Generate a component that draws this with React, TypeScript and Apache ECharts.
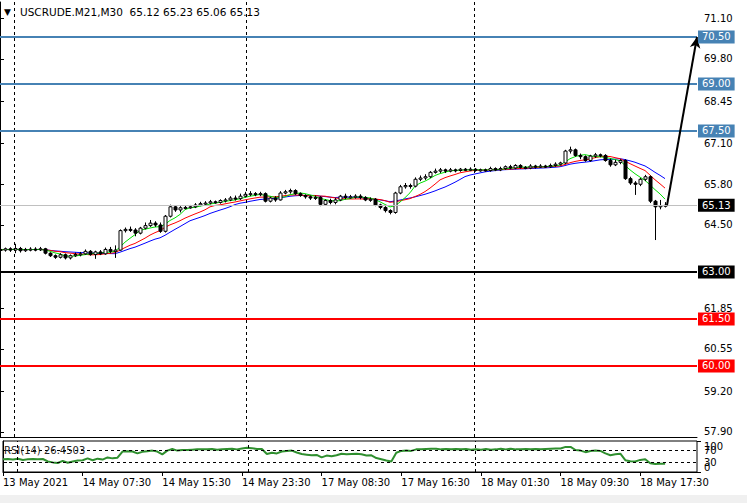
import React, { useEffect, useRef } from "react";
import * as echarts from "echarts";

const SYMBOL = "USCRUDE.M21,M30";

// [open, close, low, high] for each M30 bar, left to right
const OHLC: number[][] = [
  [63.72, 63.70, 63.66, 63.78], [63.70, 63.74, 63.65, 63.78], [63.74, 63.70, 63.64, 63.79], [63.70, 63.75, 63.60, 63.90],
  [63.75, 63.68, 63.62, 63.80], [63.68, 63.72, 63.64, 63.77], [63.72, 63.73, 63.66, 63.79], [63.73, 63.72, 63.66, 63.79],
  [63.72, 63.74, 63.67, 63.80], [63.74, 63.60, 63.56, 63.77], [63.60, 63.52, 63.48, 63.63], [63.52, 63.47, 63.42, 63.56],
  [63.47, 63.55, 63.43, 63.60], [63.55, 63.45, 63.40, 63.59], [63.45, 63.52, 63.40, 63.56], [63.52, 63.56, 63.48, 63.62],
  [63.56, 63.58, 63.50, 63.64], [63.58, 63.66, 63.55, 63.72], [63.66, 63.56, 63.52, 63.70], [63.56, 63.64, 63.42, 63.68],
  [63.64, 63.58, 63.54, 63.70], [63.58, 63.72, 63.55, 63.78], [63.72, 63.66, 63.60, 63.80], [63.66, 63.70, 63.45, 63.85],
  [63.70, 64.32, 63.68, 64.36], [64.32, 64.36, 64.26, 64.42], [64.36, 64.34, 64.28, 64.45], [64.34, 64.24, 64.14, 64.40],
  [64.24, 64.40, 64.20, 64.44], [64.40, 64.48, 64.36, 64.58], [64.48, 64.56, 64.44, 64.66], [64.56, 64.50, 64.44, 64.62],
  [64.50, 64.30, 64.25, 64.58], [64.30, 64.78, 64.26, 64.82], [64.78, 65.08, 64.74, 65.15], [65.08, 64.98, 64.92, 65.12],
  [64.98, 65.05, 64.90, 65.10], [65.05, 65.06, 65.00, 65.12], [65.06, 65.08, 65.02, 65.14], [65.08, 65.14, 65.04, 65.20],
  [65.14, 65.18, 65.10, 65.24], [65.18, 65.20, 65.14, 65.26], [65.20, 65.24, 65.16, 65.30], [65.24, 65.22, 65.18, 65.28],
  [65.22, 65.28, 65.18, 65.32], [65.28, 65.30, 65.22, 65.36], [65.30, 65.36, 65.26, 65.42], [65.36, 65.34, 65.28, 65.44],
  [65.34, 65.42, 65.30, 65.50], [65.42, 65.48, 65.38, 65.56], [65.48, 65.50, 65.42, 65.58], [65.50, 65.48, 65.42, 65.55],
  [65.48, 65.50, 65.42, 65.56], [65.50, 65.26, 65.22, 65.54], [65.26, 65.36, 65.22, 65.40], [65.36, 65.30, 65.24, 65.42],
  [65.30, 65.52, 65.28, 65.58], [65.52, 65.56, 65.48, 65.62], [65.56, 65.60, 65.50, 65.66], [65.60, 65.50, 65.46, 65.64],
  [65.50, 65.44, 65.40, 65.54], [65.44, 65.40, 65.34, 65.48], [65.40, 65.36, 65.30, 65.44], [65.36, 65.38, 65.30, 65.44],
  [65.38, 65.16, 65.10, 65.42], [65.16, 65.28, 65.12, 65.32], [65.28, 65.22, 65.16, 65.34], [65.22, 65.30, 65.16, 65.36],
  [65.30, 65.42, 65.26, 65.46], [65.42, 65.38, 65.32, 65.50], [65.38, 65.40, 65.34, 65.46], [65.40, 65.42, 65.34, 65.48],
  [65.42, 65.38, 65.32, 65.48], [65.38, 65.30, 65.26, 65.42], [65.30, 65.32, 65.24, 65.38], [65.32, 65.14, 65.10, 65.36],
  [65.14, 65.06, 65.00, 65.18], [65.06, 64.96, 64.90, 65.10], [64.96, 64.90, 64.84, 65.00], [64.90, 65.52, 64.86, 65.56],
  [65.52, 65.72, 65.48, 65.78], [65.72, 65.76, 65.66, 65.84], [65.76, 65.74, 65.66, 65.82], [65.74, 65.96, 65.70, 66.02],
  [65.96, 66.00, 65.90, 66.08], [66.00, 66.04, 65.94, 66.12], [66.04, 66.18, 66.00, 66.22], [66.18, 66.22, 66.14, 66.30],
  [66.22, 66.26, 66.16, 66.32], [66.26, 66.22, 66.16, 66.30], [66.22, 66.26, 66.18, 66.32], [66.26, 66.24, 66.18, 66.30],
  [66.24, 66.28, 66.20, 66.32], [66.28, 66.26, 66.22, 66.32], [66.26, 66.28, 66.22, 66.34], [66.28, 66.24, 66.20, 66.32],
  [66.24, 66.26, 66.20, 66.30], [66.26, 66.24, 66.20, 66.30], [66.24, 66.30, 66.20, 66.36], [66.30, 66.26, 66.22, 66.34],
  [66.26, 66.30, 66.22, 66.36], [66.30, 66.36, 66.26, 66.40], [66.36, 66.32, 66.28, 66.42], [66.32, 66.40, 66.28, 66.44],
  [66.40, 66.34, 66.30, 66.44], [66.34, 66.32, 66.28, 66.38], [66.32, 66.38, 66.28, 66.44], [66.38, 66.36, 66.30, 66.42],
  [66.36, 66.38, 66.32, 66.44], [66.38, 66.36, 66.32, 66.42], [66.36, 66.40, 66.32, 66.46], [66.40, 66.44, 66.36, 66.50],
  [66.44, 66.48, 66.40, 66.52], [66.48, 66.86, 66.44, 66.90], [66.86, 66.90, 66.78, 67.00], [66.90, 66.72, 66.68, 66.94],
  [66.72, 66.68, 66.60, 66.78], [66.68, 66.56, 66.52, 66.72], [66.56, 66.70, 66.52, 66.74], [66.70, 66.74, 66.64, 66.80],
  [66.74, 66.72, 66.66, 66.78], [66.72, 66.56, 66.52, 66.76], [66.56, 66.42, 66.36, 66.62], [66.42, 66.50, 66.38, 66.58],
  [66.50, 66.56, 66.44, 66.60], [66.56, 65.98, 65.94, 66.60], [65.98, 65.84, 65.78, 66.04], [65.84, 65.80, 65.46, 65.90],
  [65.80, 65.96, 65.74, 66.00], [65.96, 66.04, 65.90, 66.10], [66.04, 65.26, 65.20, 66.08], [65.26, 65.08, 64.02, 65.30],
  [65.08, 65.12, 65.00, 65.30], [65.12, 65.13, 65.06, 65.23],
];

// RSI(14) per bar
const RSI: number[] = [
  41, 42, 40, 43, 39, 41, 42, 41, 42,
  34, 31, 29, 36, 30, 34, 37,
  38, 44, 38, 43, 40, 47, 44,
  46,
  66, 67, 66, 60, 65, 67, 69, 66,
  57,
  69, 74, 69, 71, 71, 72, 73, 73, 73, 74, 72, 73, 74, 75, 73,
  76, 78, 77, 74, 74,
  58, 62, 60,
  66, 68, 69, 63,
  58, 56, 54, 55,
  47, 53, 51, 54,
  59, 57, 58, 59, 57, 53, 54,
  45, 41, 37, 34,
  62, 68, 69, 68,
  73, 73, 74, 75, 75, 73, 74, 73, 74, 73, 74, 72, 73, 72, 74, 72, 73, 75, 73, 75, 73, 73, 74, 73, 74, 73, 74, 75, 76, 76,
  81, 81,
  71, 69, 64, 68,
  69, 68, 60,
  54, 57, 59,
  38, 35, 34,
  39, 41,
  28, 26, 27, 26.4503,
];

const MA_PERIODS = [15, 10, 5];
const MA_COLORS = ["#0000ff", "#ff0000", "#00e000"];

const PRICE_TICKS = [71.1, 69.8, 68.45, 67.1, 65.8, 64.5, 61.85, 60.55, 59.2, 57.9];
const BLUE_LEVELS = [70.5, 69.0, 67.5];
const BLACK_LEVEL = 63.0;
const RED_LEVELS = [61.5, 60.0];
const TARGET = 70.5;

const TIME_TICK_BARS = [0, 16, 32, 48, 64, 80, 96, 112, 128];
const TIME_TICK_LABELS = [
  "13 May 2021", "14 May 07:30", "14 May 15:30", "14 May 23:30", "17 May 08:30",
  "17 May 16:30", "18 May 01:30", "18 May 09:30", "18 May 17:30",
];
const SEPARATOR_BARS = [2.8, 49.2, 94.8];

const RSI_LEVEL_TICKS = [30, 70];
const RSI_BOUND_TICKS = [0, 100];

const FONT = "DejaVu Sans";

function sma(period: number): number[][] {
  return OHLC.map((_, i) => {
    const s = Math.max(0, i - period + 1);
    let sum = 0;
    for (let k = s; k <= i; k++) sum += OHLC[k][1];
    return [i, sum / (i - s + 1)];
  });
}

export default function App() {
  const ref = useRef<HTMLDivElement>(null);
  useEffect(() => {
    if (!ref.current) return;
    const chart = echarts.init(ref.current, null, { renderer: "svg" });
    const n = OHLC.length;
    const last = OHLC[n - 1];
    const lastPrice = last[1];
    const xMax = 139.4;
    const yMin = 57.734;
    const yMax = 71.617;

    const candleData = OHLC.map((r, i) => [i, r[0], r[1], r[2], r[3]]);
    const lvlLabel = (bg: string) => ({
      show: true,
      position: "end",
      distance: 1,
      color: "#fff",
      backgroundColor: bg,
      fontFamily: FONT,
      fontSize: 10,
      padding: [2, 4, 1, 4],
      formatter: (p: any) => Number(p.value).toFixed(2),
    });
    const sepLines = SEPARATOR_BARS.map((b) => ({
      xAxis: b,
      lineStyle: { color: "#000", width: 1, type: [3, 3] },
      label: { show: false },
    }));
    const rsiAxisBase = {
      type: "value", gridIndex: 1, position: "right", min: 0, max: 100,
      splitLine: { show: false },
    };

    const option: any = {
      animation: false,
      backgroundColor: "#fff",
      title: [
        { text: "▼", left: -1, top: 2, textStyle: { fontSize: 9, color: "#000", fontWeight: "normal", fontFamily: FONT } },
        {
          text: `${SYMBOL}  ${last[0].toFixed(2)} ${last[3].toFixed(2)} ${last[2].toFixed(2)} ${last[1].toFixed(2)}`,
          left: 20, top: 6, padding: 0,
          textStyle: { fontSize: 10.5, color: "#000", fontWeight: "normal", fontFamily: FONT },
        },
        {
          text: `RSI(14) ${RSI[RSI.length - 1].toFixed(4)}`,
          left: 4, top: 445, padding: 0,
          textStyle: { fontSize: 10, color: "#222", fontWeight: "normal", fontFamily: FONT },
        },
      ],
      grid: [
        { left: 0, top: 2, width: 697, height: 435 },
        { left: 0, top: 441, width: 697, height: 31, show: true, borderColor: "#000", borderWidth: 1, backgroundColor: "transparent" },
      ],
      xAxis: [
        {
          type: "value", gridIndex: 0, min: 0, max: xMax,
          axisLine: { show: true, onZero: false, lineStyle: { color: "#000", width: 1 } },
          axisTick: { show: false }, axisLabel: { show: false }, splitLine: { show: false },
        },
        {
          type: "value", gridIndex: 1, min: 0, max: xMax,
          axisLine: { show: true, onZero: false, lineStyle: { color: "#000", width: 1 } },
          axisTick: { show: true, length: 4, customValues: TIME_TICK_BARS, lineStyle: { color: "#000" } },
          axisLabel: {
            show: true, customValues: TIME_TICK_BARS, align: "left", margin: 5,
            color: "#000", fontSize: 10, fontFamily: FONT,
            formatter: (v: number) => TIME_TICK_LABELS[TIME_TICK_BARS.indexOf(v)] ?? "",
          },
          splitLine: { show: false },
        },
      ],
      yAxis: [
        {
          type: "value", gridIndex: 0, position: "right", min: yMin, max: yMax,
          axisLine: { show: true, lineStyle: { color: "#000", width: 1 } },
          axisTick: { show: true, length: 4, customValues: PRICE_TICKS, lineStyle: { color: "#000" } },
          axisLabel: {
            show: true, customValues: PRICE_TICKS, margin: 7, color: "#000", fontSize: 10, fontFamily: FONT,
            formatter: (v: number) => v.toFixed(2),
          },
          splitLine: { show: false },
        },
        {
          ...rsiAxisBase,
          axisLine: { show: true, lineStyle: { color: "#000", width: 1 } },
          axisTick: { show: true, length: 4, customValues: RSI_LEVEL_TICKS, lineStyle: { color: "#000" } },
          axisLabel: {
            show: true, customValues: RSI_LEVEL_TICKS, margin: 7, color: "#000", fontSize: 10, fontFamily: FONT,
            formatter: (v: number) => String(v),
          },
        },
        {
          ...rsiAxisBase,
          axisLine: { show: false },
          axisTick: { show: true, length: 4, customValues: RSI_BOUND_TICKS, lineStyle: { color: "#000" } },
          axisLabel: {
            show: true, customValues: RSI_BOUND_TICKS, margin: 7, color: "#000", fontSize: 10, fontFamily: FONT,
            showMinLabel: true, showMaxLabel: true,
            verticalAlignMaxLabel: "top", verticalAlignMinLabel: "bottom",
            formatter: (v: number) => String(v),
          },
        },
      ],
      series: [
        ...MA_PERIODS.map((p, k) => ({
          type: "line", xAxisIndex: 0, yAxisIndex: 0, data: sma(p), showSymbol: false, symbol: "none",
          lineStyle: { color: MA_COLORS[k], width: 1 }, silent: true, z: 3,
        })),
        {
          type: "custom", xAxisIndex: 0, yAxisIndex: 0, data: candleData, z: 4, silent: true,
          encode: { x: 0, y: [1, 2, 3, 4] },
          renderItem: (_params: any, api: any) => {
            const x = api.value(0), o = api.value(1), c = api.value(2), l = api.value(3), h = api.value(4);
            const pO = api.coord([x, o]), pC = api.coord([x, c]), pL = api.coord([x, l]), pH = api.coord([x, h]);
            const cx = Math.round(pO[0]) + 0.5;
            const top = Math.min(pO[1], pC[1]);
            const bot = Math.max(pO[1], pC[1]);
            const bull = c >= o;
            return {
              type: "group",
              children: [
                { type: "line", shape: { x1: cx, y1: pH[1], x2: cx, y2: pL[1] }, style: { stroke: "#000", lineWidth: 1 } },
                {
                  type: "rect",
                  shape: { x: cx - 1.5, y: top, width: 3, height: Math.max(bot - top, 1) },
                  style: { fill: bull ? "#fff" : "#000", stroke: "#000", lineWidth: 1 },
                },
              ],
            };
          },
          markLine: {
            silent: true, symbol: ["none", "none"], animation: false,
            data: [
              ...sepLines,
              { yAxis: lastPrice, lineStyle: { color: "#c0c0c0", width: 1, type: "solid" }, label: lvlLabel("#000") },
              ...BLUE_LEVELS.map((v) => ({ yAxis: v, lineStyle: { color: "#4682b4", width: 2, type: "solid" }, label: lvlLabel("#4682b4") })),
              { yAxis: BLACK_LEVEL, lineStyle: { color: "#000", width: 2, type: "solid" }, label: lvlLabel("#000") },
              ...RED_LEVELS.map((v) => ({ yAxis: v, lineStyle: { color: "#ff0000", width: 2, type: "solid" }, label: lvlLabel("#ff0000") })),
              [
                { coord: [n - 1 + 0.4, lastPrice], symbol: "none" },
                {
                  coord: [xMax, TARGET], symbol: "arrow", symbolSize: [8, 11],
                  lineStyle: { color: "#000", width: 2, type: "solid" }, label: { show: false },
                },
              ],
            ],
          },
        },
        {
          type: "line", xAxisIndex: 1, yAxisIndex: 1, data: RSI.map((v, i) => [i, v]), showSymbol: false, symbol: "none",
          lineStyle: { color: "#2f8f2f", width: 2 }, silent: true, z: 3,
          markLine: {
            silent: true, symbol: ["none", "none"], animation: false,
            data: [
              ...RSI_LEVEL_TICKS.map((v) => ({ yAxis: v, lineStyle: { color: "#000", width: 1, type: [3, 3] }, label: { show: false } })),
              ...sepLines,
            ],
          },
        },
      ],
    };
    chart.setOption(option);
    return () => chart.dispose();
  }, []);

  return (
    <div style={{ position: "fixed", left: 0, top: 0, width: 747, height: 503, background: "#f0f0f0" }}>
      <div ref={ref} style={{ width: 747, height: 495 }} />
    </div>
  );
}
